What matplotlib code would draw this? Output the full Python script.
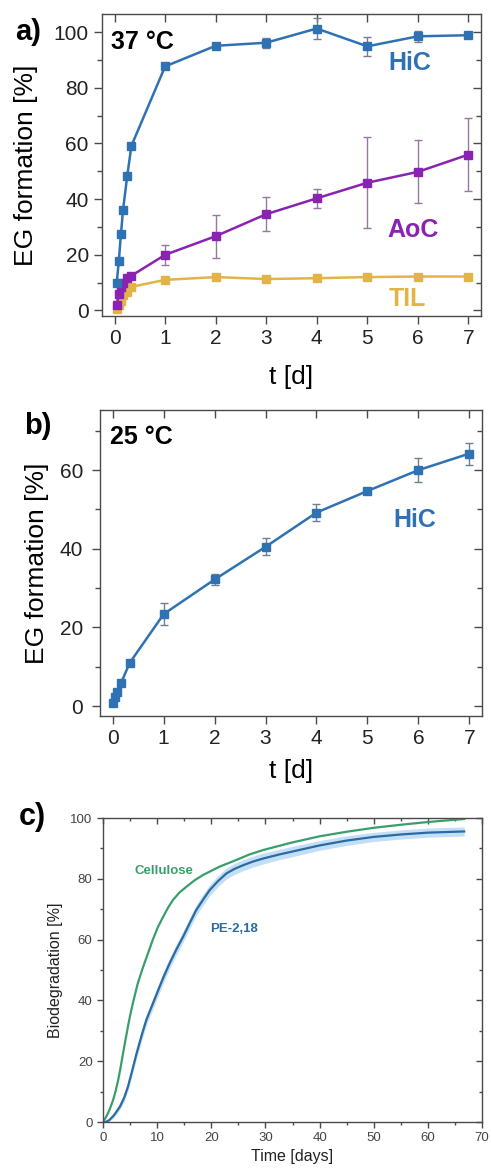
import matplotlib
matplotlib.use("Agg")
import matplotlib.pyplot as plt
from matplotlib.ticker import MultipleLocator

plt.rcParams["font.family"] = ["Liberation Sans", "DejaVu Sans"]

# ---- panel a: 37 °C ----
t_a = [0.042, 0.083, 0.125, 0.167, 0.25, 0.333, 1, 2, 3, 4, 5, 6, 7]
hic_37 = [10, 17.7, 27.4, 36.2, 48.4, 59.2, 87.7, 95.1, 96.2, 101.3, 94.9, 98.5, 98.9]
hic_37_err = [0.5, 0.5, 0.5, 0.5, 0.5, 0.5, 0.8, 0.8, 1.8, 3.7, 3.3, 2.0, 0.8]
aoc_37 = [2.0, 6.0, 8.5, 10.0, 11.5, 12.5, 20.0, 26.7, 34.6, 40.3, 45.9, 49.8, 56.0]
aoc_37_err = [0.3, 0.5, 0.5, 0.5, 0.5, 0.5, 3.5, 7.7, 6.0, 3.5, 16.3, 11.3, 13.0]
til_37 = [0.6, 2.0, 3.5, 5.5, 6.5, 8.5, 11.0, 12.0, 11.3, 11.6, 12.0, 12.2, 12.2]
til_37_err = [0.3, 0.3, 0.3, 0.3, 0.3, 0.3, 0.5, 0.5, 0.5, 0.5, 0.5, 0.5, 0.5]

# ---- panel b: 25 °C ----
t_b = [0.01, 0.042, 0.083, 0.167, 0.333, 1, 2, 3, 4, 5, 6, 7]
hic_25 = [0.8, 2.3, 3.7, 6.0, 11.0, 23.4, 32.2, 40.5, 49.2, 54.7, 60.0, 64.2]
hic_25_err = [0.3, 0.3, 0.3, 0.4, 0.8, 2.75, 1.3, 2.2, 2.1, 0.8, 3.0, 2.8]

# ---- panel c: biodegradation ----
t_cell = [0, 0.6, 1.2, 1.85, 2.3, 2.8, 3.2, 3.7, 4.2, 4.6, 5.0, 5.5, 6.4, 7.4, 8.3,
          9.2, 10.1, 11.1, 12.0, 12.9, 14.1, 15.4, 16.9, 18.5, 21.5, 24.6, 27.0,
          29.6, 35, 40, 45, 50, 55, 60, 66.7]
cellulose = [0, 1.8, 4.0, 7.2, 10.0, 13.8, 17.5, 22.6, 27.5, 31.4, 35.0, 39.0, 45.5,
             51.0, 55.5, 60.0, 64.0, 67.5, 70.5, 73.0, 75.5, 77.4, 79.5, 81.3, 84.0,
             86.2, 88.0, 89.5, 92.0, 94.0, 95.5, 96.8, 97.8, 98.7, 99.7]
t_pe = [0, 0.6, 1.2, 2.0, 3.1, 3.9, 4.6, 5.4, 6.2, 7.1, 8.0, 9.1, 10.2, 11.2, 12.3,
        13.5, 14.8, 16.0, 17.2, 18.5, 19.7, 21.2, 22.8, 24.3, 25.9, 27.7, 29.6,
        32.5, 35, 40, 45, 50, 55, 60, 66.7]
pe218 = [0, 0.1, 0.7, 2.2, 5.0, 8.0, 11.6, 17.0, 22.6, 28.3, 33.6, 38.5, 43.4, 47.8,
         52.2, 56.6, 61.0, 65.4, 69.7, 73.2, 76.3, 79.2, 81.8, 83.3, 84.5, 85.7,
         86.7, 88.0, 89.0, 91.0, 92.6, 93.8, 94.6, 95.2, 95.6]
pe218_sd = [0, 0.2, 0.4, 0.7, 1.0, 1.2, 1.4, 1.6, 1.7, 1.8, 1.8, 1.8, 1.8, 1.8,
            1.8, 1.8, 1.8, 1.8, 1.8, 1.8, 1.8, 1.8, 1.8, 1.8, 1.8, 1.8, 1.8,
            1.7, 1.7, 1.6, 1.6, 1.5, 1.5, 1.5, 1.5]

blue = "#2f72b3"
purple = "#8a22b2"
gold = "#e2b447"
green = "#3a9e6c"
pe_blue = "#2b6aa3"
spine_col = "#4a4a4a"

fig = plt.figure(figsize=(4.91, 11.71), dpi=100)


def style_axes(ax, tick_fs, major_len, minor_len, labcol="#222222"):
    for s in ax.spines.values():
        s.set_color(spine_col)
        s.set_linewidth(1.0)
    ax.tick_params(which="both", direction="out", colors=spine_col,
                   labelcolor=labcol, labelsize=tick_fs, width=1.0)
    ax.tick_params(which="major", length=major_len)
    ax.tick_params(which="minor", length=minor_len)
    # mirrored ticks pointing inward on top / right
    top = ax.secondary_xaxis("top")
    right = ax.secondary_yaxis("right")
    top.xaxis.set_major_locator(ax.xaxis.get_major_locator())
    top.xaxis.set_minor_locator(ax.xaxis.get_minor_locator())
    right.yaxis.set_major_locator(ax.yaxis.get_major_locator())
    right.yaxis.set_minor_locator(ax.yaxis.get_minor_locator())
    for sec in (top, right):
        sec.tick_params(which="both", direction="in", colors=spine_col, width=1.0,
                        labelleft=False, labelright=False, labeltop=False, labelbottom=False)
        sec.tick_params(which="major", length=major_len)
        sec.tick_params(which="minor", length=minor_len)
        for s in sec.spines.values():
            s.set_visible(False)


def ebar(ax, x, y, e, col, ecol):
    ax.errorbar(x, y, yerr=e, color=col, ecolor=ecol, elinewidth=1.0, capsize=3,
                capthick=1.0, marker="s", markersize=5.5, linewidth=1.8, zorder=3)


# panel a
ax1 = fig.add_axes([0.2077, 0.7301, 0.772, 0.2579])
ebar(ax1, t_a, til_37, til_37_err, gold, "#c9a35a")
ebar(ax1, t_a, aoc_37, aoc_37_err, purple, "#94789f")
ebar(ax1, t_a, hic_37, hic_37_err, blue, "#6f7f8f")
ax1.set_xlim(-0.25, 7.25)
ax1.set_ylim(-2, 106.5)
ax1.xaxis.set_major_locator(MultipleLocator(1))
ax1.yaxis.set_major_locator(MultipleLocator(20))
ax1.yaxis.set_minor_locator(MultipleLocator(10))
style_axes(ax1, 15, 6, 3.5)
ax1.set_ylabel("EG formation [%]", fontsize=19, labelpad=11)
ax1.set_xlabel("t [d]", fontsize=19, labelpad=12)
ax1.text(-0.08, 96.4, "37 °C", fontsize=18, fontweight="bold", ha="left", va="center")
ax1.text(5.84, 88.8, "HiC", fontsize=18, fontweight="bold", color=blue, ha="center", va="center")
ax1.text(5.9, 29, "AoC", fontsize=18, fontweight="bold", color=purple, ha="center", va="center")
ax1.text(5.8, 4.3, "TIL", fontsize=18, fontweight="bold", color=gold, ha="center", va="center")

# panel b
ax2 = fig.add_axes([0.2037, 0.3886, 0.778, 0.2613])
ebar(ax2, t_b, hic_25, hic_25_err, blue, "#6f7f8f")
ax2.set_xlim(-0.25, 7.25)
ax2.set_ylim(-2.5, 75.3)
ax2.xaxis.set_major_locator(MultipleLocator(1))
ax2.yaxis.set_major_locator(MultipleLocator(20))
ax2.yaxis.set_minor_locator(MultipleLocator(10))
style_axes(ax2, 15, 6, 3.5)
ax2.tick_params(axis="y", pad=6)
ax2.set_ylabel("EG formation [%]", fontsize=19, labelpad=8)
ax2.set_xlabel("t [d]", fontsize=19, labelpad=8)
ax2.text(-0.05, 68.5, "25 °C", fontsize=18, fontweight="bold", ha="left", va="center")
ax2.text(5.94, 47.3, "HiC", fontsize=18, fontweight="bold", color=blue, ha="center", va="center")

# panel c
ax3 = fig.add_axes([0.2098, 0.0418, 0.772, 0.2596])
lo = [v - s for v, s in zip(pe218, pe218_sd)]
hi = [v + s for v, s in zip(pe218, pe218_sd)]
ax3.fill_between(t_pe, lo, hi, color="#a9d2f2", alpha=0.7, linewidth=0)
ax3.plot(t_pe, pe218, color=pe_blue, linewidth=1.6)
ax3.plot(t_cell, cellulose, color=green, linewidth=1.6)
ax3.set_xlim(0, 70)
ax3.set_ylim(0, 100)
ax3.xaxis.set_major_locator(MultipleLocator(10))
ax3.xaxis.set_minor_locator(MultipleLocator(5))
ax3.yaxis.set_major_locator(MultipleLocator(20))
ax3.yaxis.set_minor_locator(MultipleLocator(10))
style_axes(ax3, 9.5, 4, 2.5, labcol="#444444")
ax3.set_ylabel("Biodegradation [%]", fontsize=11.5, labelpad=5, color="#222222")
ax3.set_xlabel("Time [days]", fontsize=11.5, labelpad=3, color="#222222")
ax3.text(11.2, 82.5, "Cellulose", fontsize=9.5, fontweight="bold", color=green, ha="center", va="center")
ax3.text(24.2, 63.6, "PE-2,18", fontsize=9.5, fontweight="bold", color=pe_blue, ha="center", va="center")

# panel letters
fig.text(28 / 491, 1 - 32.5 / 1171, "a)", fontsize=21, fontweight="bold", ha="center", va="center")
fig.text(38 / 491, 1 - 426 / 1171, "b)", fontsize=21, fontweight="bold", ha="center", va="center")
fig.text(32.5 / 491, 1 - 817.5 / 1171, "c)", fontsize=22, fontweight="bold", ha="center", va="center")

fig.savefig("out.png", dpi=100)
